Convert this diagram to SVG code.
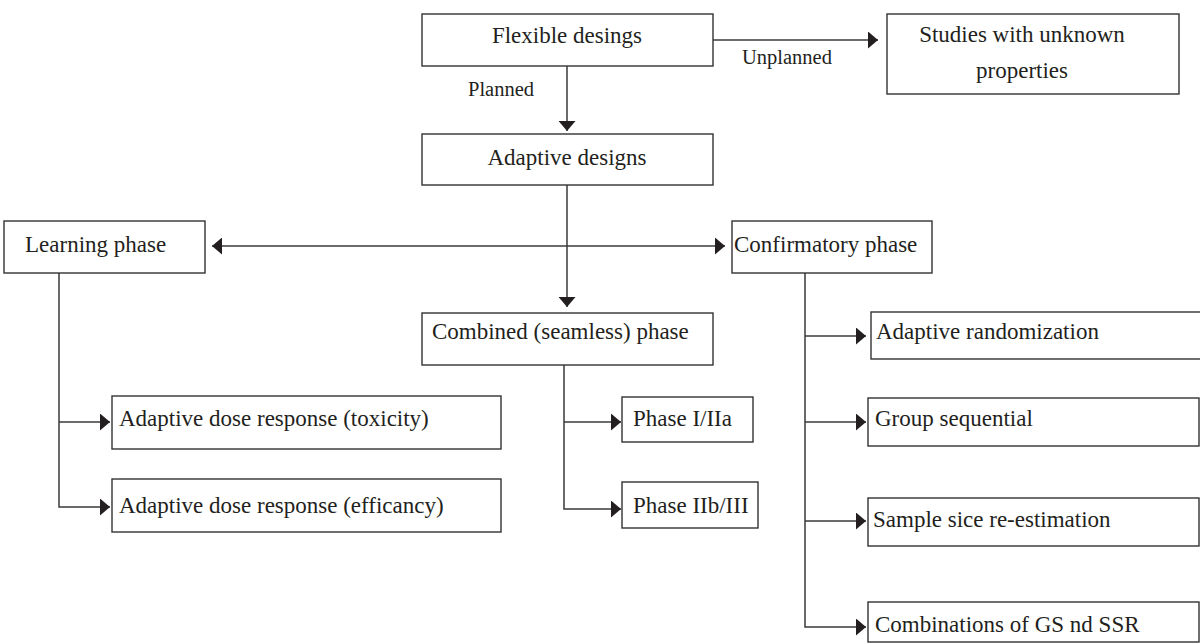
<svg xmlns="http://www.w3.org/2000/svg" width="1200" height="644" viewBox="0 0 1200 644">
<style>
.box{fill:#fff;stroke:#333;stroke-width:1.4}
.t{font-family:"Liberation Serif","Times New Roman",serif;font-size:23px;fill:#231f20}
.lbl{font-family:"Liberation Serif","Times New Roman",serif;font-size:20.5px;fill:#231f20}
.c{text-anchor:middle}
.ln{fill:none;stroke:#3a3a3a;stroke-width:1.5}
</style>
<defs>
<marker id="ah" markerUnits="userSpaceOnUse" markerWidth="10" markerHeight="17" viewBox="0 0 10 17" refX="10" refY="8.5" orient="auto-start-reverse">
<path d="M0,0 L10,8.5 L0,17 z" fill="#231f20"/>
</marker>
</defs>
<rect width="1200" height="644" fill="#fff"/>
<g id="connectors">
<line class="ln" x1="567" y1="66" x2="567" y2="131" marker-end="url(#ah)"/>
<line class="ln" x1="713" y1="40" x2="878" y2="40" marker-end="url(#ah)"/>
<line class="ln" x1="567" y1="185" x2="567" y2="307" marker-end="url(#ah)"/>
<line class="ln" x1="212" y1="246" x2="725" y2="246" marker-start="url(#ah)" marker-end="url(#ah)"/>
<polyline class="ln" points="59,273 59,507 110,507" marker-end="url(#ah)"/>
<line class="ln" x1="59" y1="422" x2="110" y2="422" marker-end="url(#ah)"/>
<polyline class="ln" points="564,365 564,509 621,509" marker-end="url(#ah)"/>
<line class="ln" x1="564" y1="422" x2="621" y2="422" marker-end="url(#ah)"/>
<polyline class="ln" points="805,273 805,627 866,627" marker-end="url(#ah)"/>
<line class="ln" x1="805" y1="336" x2="866" y2="336" marker-end="url(#ah)"/>
<line class="ln" x1="805" y1="422" x2="866" y2="422" marker-end="url(#ah)"/>
<line class="ln" x1="805" y1="521" x2="866" y2="521" marker-end="url(#ah)"/>
<text class="lbl" x="468" y="96">Planned</text>
<text class="lbl" x="742" y="64">Unplanned</text>
</g>
<g id="flexible">
<rect class="box" x="422" y="14" width="291" height="52"/>
<text class="t c" x="567" y="43">Flexible desings</text>
</g>
<g id="studies">
<rect class="box" x="887" y="14" width="292" height="80"/>
<text class="t c" x="1022" y="42">Studies with unknown</text>
<text class="t c" x="1022" y="78">properties</text>
</g>
<g id="adaptive">
<rect class="box" x="422" y="134" width="291" height="51"/>
<text class="t c" x="567" y="165">Adaptive designs</text>
</g>
<g id="learning">
<rect class="box" x="4" y="221" width="201" height="52"/>
<text class="t" x="25" y="252">Learning phase</text>
</g>
<g id="confirmatory">
<rect class="box" x="732" y="221" width="200" height="52"/>
<text class="t" x="734" y="252">Confirmatory phase</text>
</g>
<g id="combined">
<rect class="box" x="422" y="313" width="291" height="52"/>
<text class="t" x="432" y="339">Combined (seamless) phase</text>
</g>
<g id="tox">
<rect class="box" x="112" y="396" width="389" height="53"/>
<text class="t" x="119" y="426">Adaptive dose response (toxicity)</text>
</g>
<g id="eff">
<rect class="box" x="112" y="479" width="389" height="53"/>
<text class="t" x="119" y="513">Adaptive dose response (efficancy)</text>
</g>
<g id="phase1">
<rect class="box" x="622" y="397" width="131" height="45"/>
<text class="t" x="633" y="426">Phase I/IIa</text>
</g>
<g id="phase2">
<rect class="box" x="622" y="482" width="136" height="46"/>
<text class="t" x="633" y="513">Phase IIb/III</text>
</g>
<g id="randomization">
<rect class="box" x="871" y="312" width="330" height="47"/>
<text class="t" x="876" y="339">Adaptive randomization</text>
</g>
<g id="group">
<rect class="box" x="868" y="398" width="331" height="48"/>
<text class="t" x="875" y="426">Group sequential</text>
</g>
<g id="sample">
<rect class="box" x="868" y="498" width="331" height="48"/>
<text class="t" x="873" y="527">Sample sice re-estimation</text>
</g>
<g id="combinations">
<rect class="box" x="868" y="602" width="331" height="40"/>
<text class="t" x="875" y="632">Combinations of GS nd SSR</text>
</g>
</svg>
